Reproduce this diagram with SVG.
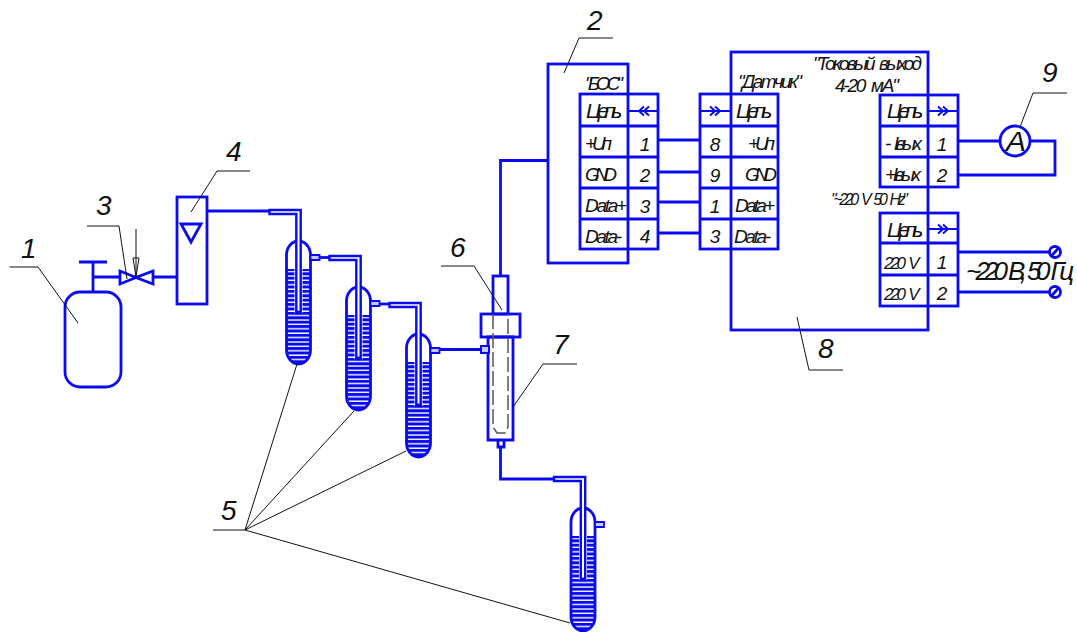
<svg xmlns="http://www.w3.org/2000/svg" xmlns:xlink="http://www.w3.org/1999/xlink" width="1077" height="632" viewBox="0 0 1077 632">
<style>
.b{fill:none;stroke:#0a0af0;stroke-width:2.8}
.w{fill:#fff;stroke:#0a0af0;stroke-width:2.8}
.s{fill:none;stroke:#0a0af0;stroke-width:2}
.l{fill:none;stroke:#111;stroke-width:1}
.d{fill:none;stroke:#555;stroke-width:1.5}
text{font-family:"Liberation Sans",Arial,sans-serif;font-style:italic;fill:#111;word-spacing:4px}
.n{font-size:28px}
.t{font-size:21px;letter-spacing:-2.4px}
.c{font-size:19px;text-anchor:middle}
.q{font-size:19px;letter-spacing:-2px}
</style>
<defs>
<pattern id="hatch" patternUnits="userSpaceOnUse" width="10" height="4.4" y="0.5">
<rect width="10" height="3" fill="#0a0af0"/>
</pattern>
<g id="chev"><path d="M0 0H31M10 -4.500L15 0L10 4.500M15 -4.500L20 0L15 4.500" class="s"/></g>
<g id="bubbler">
<path d="M-12 14A12 14 0 0 1 12 14V109A12 14 0 0 1 -12 109Z" fill="#fff"/>
<path d="M-12 29H12V109A12 14 0 0 1 -12 109Z" fill="url(#hatch)"/>
<path d="M-12 29H12" class="s"/>
<rect x="-4" y="28" width="8" height="44" fill="#fff"/>
<path d="M-12 14A12 14 0 0 1 12 14V109A12 14 0 0 1 -12 109Z" class="b"/>
<path d="M-2.200 72V-27H-29V-31H2.200V72Z" fill="#fff" stroke="#0a0af0" stroke-width="2.400"/>
<path d="M-3 71H3" class="b"/>
<path d="M12 14H21V19H12Z" fill="#c8c8ff" stroke="#0a0af0" stroke-width="1.800"/>
</g>
</defs>

<g id="connectors">
<path class="b" d="M93 277H120M153 277H177"/>
<path class="b" d="M207 211H270"/>
<path class="b" d="M320 257.500H329"/>
<path class="b" d="M380 304H389"/>
<path class="b" d="M440 349.500H481"/>
<path class="b" d="M500.500 447V479H554"/>
<path class="b" d="M500.500 276V160.500H549"/>
<path class="b" d="M658 140H700M658 172H700M658 202H700M658 233H700"/>
<path class="b" d="M958 141H1000M1030 141H1055V175H958"/>
<path class="b" d="M958 252H1055M958 292H1055"/>
</g>

<g id="node-1">
<rect class="b" x="65" y="292" width="56" height="95" rx="15" ry="15"/>
<path class="b" d="M93 292V262M79 262H107"/>
<path class="l" d="M9.500 267H38L78 323"/>
<text class="n" x="21" y="258">1</text>
</g>
<g id="node-3">
<path class="b" d="M120 271V284L136 277.500ZM153 271V284L136 277.500Z"/>
<path class="l" d="M136 229V277M133 258L136 277L139 258M133 258H139"/>
<path class="l" d="M87 226H119L127 279"/>
<text class="n" x="96" y="215">3</text>
</g>
<g id="node-4">
<rect class="b" x="177" y="197" width="30" height="107"/>
<path class="b" d="M181 224H201L191 242Z"/>
<path class="l" d="M250 171H217L191 212"/>
<text class="n" x="226" y="161">4</text>
</g>
<g id="node-5a"><use xlink:href="#bubbler" href="#bubbler" x="298.500" y="241"/></g>
<g id="node-5b"><use xlink:href="#bubbler" href="#bubbler" x="358.500" y="287"/></g>
<g id="node-5c"><use xlink:href="#bubbler" href="#bubbler" x="418.500" y="334"/></g>
<g id="node-5d"><use xlink:href="#bubbler" href="#bubbler" x="583" y="508"/></g>
<g id="label-5">
<path class="l" d="M213 530H245L297 364M245 530L354 411M245 530L406 451M245 530L570 623"/>
<text class="n" x="221" y="520">5</text>
</g>
<g id="node-7">
<path class="w" d="M488 337H513V440H488Z"/>
<path class="b" d="M498 440V447H504V440"/>
<path d="M481 346H489V353H481Z" fill="#c8c8ff" stroke="#0a0af0" stroke-width="2"/>
<path class="l" d="M577 364H543L513 407"/>
<text class="n" x="553" y="354">7</text>
</g>
<g id="node-6">
<rect class="b" x="493" y="276" width="15" height="38"/>
<rect class="b" x="481" y="314" width="39" height="23"/>
<path class="d" stroke-dasharray="15 4" d="M493 314V427L497 433H505L508 427V314"/>
<path class="l" d="M441 266H474L502 310"/>
<text class="n" x="450" y="257">6</text>
</g>

<g id="node-2">
<rect class="b" x="548" y="64" width="80" height="199"/>
<rect class="w" x="580" y="94" width="78" height="155"/>
<path class="b" d="M628 94V249M580 126H658M580 157H658M580 188H658M580 219H658"/>
<use href="#chev" transform="translate(659 111) scale(-1 1)" xlink:href="#chev"/>
<path class="l" d="M613 38H579L564 73"/>
<text class="n" x="587" y="30">2</text>
<text class="q" x="585" y="90" textLength="36">"БОС"</text>
<text class="t" x="586" y="118" textLength="34">Цепь</text>
<text class="q" x="585" y="150" textLength="25">+Uп</text>
<text class="q" x="585" y="181" textLength="30">GND</text>
<text class="q" x="585" y="212" textLength="40">Data+</text>
<text class="q" x="585" y="243" textLength="35">Data-</text>
<text class="c" x="645" y="151">1</text>
<text class="c" x="645" y="182">2</text>
<text class="c" x="645" y="213">3</text>
<text class="c" x="645" y="243">4</text>
</g>

<g id="node-8">
<rect class="b" x="731" y="52" width="197" height="278"/>
<rect class="w" x="700" y="94" width="78" height="155"/>
<path class="b" d="M731 94V249M700 126H778M700 157H778M700 188H778M700 219H778"/>
<use href="#chev" x="700" y="111" xlink:href="#chev"/>
<text class="q" x="738" y="88" textLength="62">"Датчик"</text>
<text class="t" x="736" y="118" textLength="34">Цепь</text>
<text class="q" x="748" y="150" textLength="25">+Uп</text>
<text class="q" x="745" y="181" textLength="30">GND</text>
<text class="q" x="735" y="212" textLength="38">Data+</text>
<text class="q" x="734" y="243" textLength="35">Data-</text>
<text class="c" x="715" y="151">8</text>
<text class="c" x="715" y="182">9</text>
<text class="c" x="715" y="213">1</text>
<text class="c" x="715" y="243">3</text>
<text class="q" x="813" y="70" textLength="107">"Токовый выход</text>
<text class="q" x="835" y="92" textLength="62">4-20 мА"</text>
<rect class="w" x="880" y="95" width="78" height="92"/>
<path class="b" d="M928 95V187M880 126H958M880 157H958"/>
<use href="#chev" x="928" y="111" xlink:href="#chev"/>
<text class="t" x="887" y="118" textLength="34">Цепь</text>
<text class="q" x="885" y="150" textLength="35">- Iвых</text>
<text class="q" x="885" y="181" textLength="34">+Iвых</text>
<text class="c" x="942" y="151">1</text>
<text class="c" x="942" y="182">2</text>
<text x="831" y="205" font-size="16" letter-spacing="-2" textLength="75">"~220 V 50 Hz"</text>
<rect class="w" x="880" y="213" width="78" height="93"/>
<path class="b" d="M928 213V306M880 243H958M880 275H958"/>
<use href="#chev" x="928" y="229" xlink:href="#chev"/>
<text class="t" x="887" y="237" textLength="34">Цепь</text>
<text x="884" y="269" font-size="17" letter-spacing="-1.500" textLength="34">220 V</text>
<text x="884" y="300" font-size="17" letter-spacing="-1.500" textLength="34">220 V</text>
<text class="c" x="942" y="269">1</text>
<text class="c" x="942" y="300">2</text>
<path class="l" d="M843 370H809L797 317"/>
<text class="n" x="818" y="358">8</text>
</g>

<g id="node-9">
<circle class="w" cx="1015" cy="141" r="15"/>
<text x="1006" y="151" font-size="28" textLength="20" lengthAdjust="spacingAndGlyphs">A</text>
<path class="l" d="M1067 93H1033L1020 127"/>
<text class="n" x="1042" y="82">9</text>
</g>

<g id="terminals">
<circle class="w" cx="1055" cy="252" r="5.500"/>
<path class="b" d="M1051 256.500L1059 247.500"/>
<circle class="w" cx="1055" cy="292" r="5.500"/>
<path class="b" d="M1051 296.500L1059 287.500"/>
<text x="966" y="280" font-size="26" letter-spacing="-4" word-spacing="6" textLength="104">~220 В, 50 Гц</text>
</g>
</svg>
